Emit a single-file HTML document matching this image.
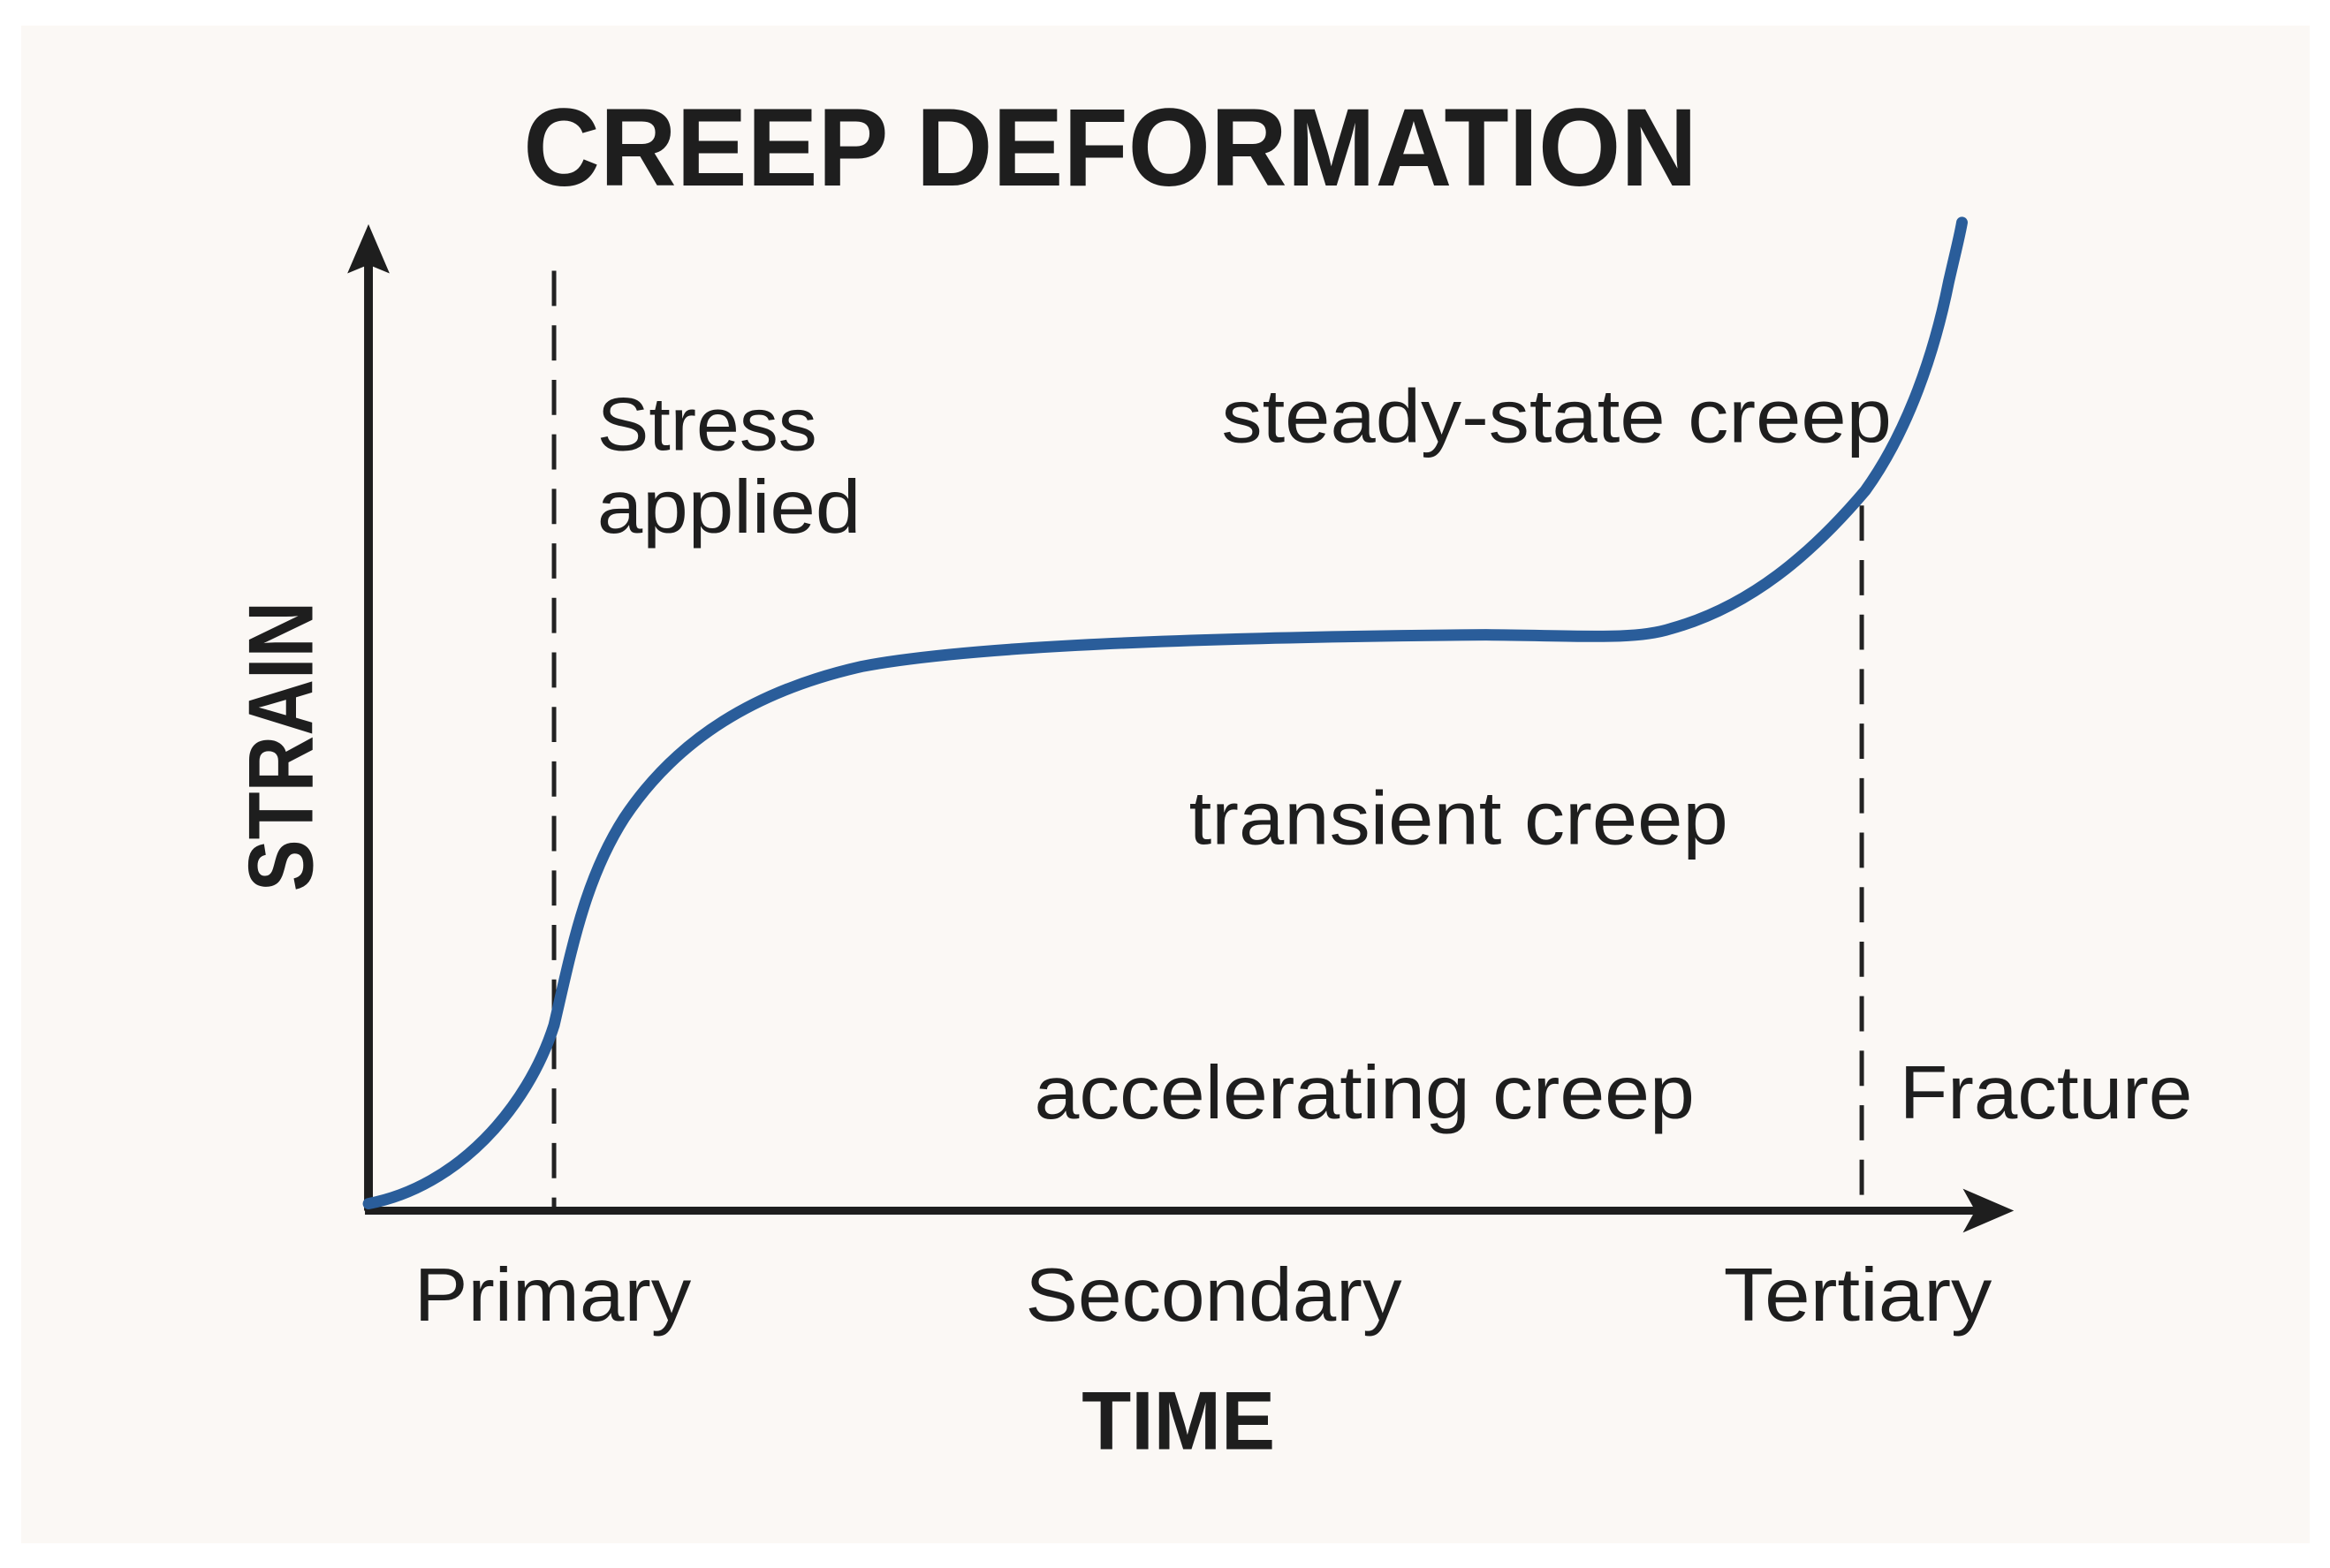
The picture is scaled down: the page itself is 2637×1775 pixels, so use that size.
<!DOCTYPE html>
<html><head><meta charset="utf-8"><style>
html,body{margin:0;padding:0;background:#fff}
svg{display:block}
text{font-family:"Liberation Sans","DejaVu Sans",sans-serif;fill:#1e1e1e}
</style></head><body>
<svg width="2637" height="1775" viewBox="0 0 2637 1775" xmlns="http://www.w3.org/2000/svg">
<rect x="0" y="0" width="2637" height="1775" fill="#ffffff"/>
<rect x="24" y="29" width="2590" height="1718" fill="#fbf8f5"/>
<g transform="scale(0.9953)">
<text x="595" y="211" font-size="126" font-weight="bold" textLength="1335" lengthAdjust="spacingAndGlyphs">CREEP DEFORMATION</text>
<line x1="630" y1="308" x2="630" y2="1377" stroke="#222" stroke-width="5" stroke-dasharray="40 22"/>
<line x1="2117" y1="575" x2="2117" y2="1377" stroke="#222" stroke-width="5" stroke-dasharray="40 22"/>
<line x1="419" y1="1377" x2="419" y2="290" stroke="#1e1e1e" stroke-width="10"/>
<polygon points="419,255 395,311 419,301 443,311" fill="#1e1e1e"/>
<line x1="415" y1="1377" x2="2250" y2="1377" stroke="#1e1e1e" stroke-width="9"/>
<polygon points="2290,1377 2232,1352 2246,1377 2232,1402" fill="#1e1e1e"/>
<path d="M419,1369 C520,1350 600,1260 630,1166 C650,1080 665,1000 710,930 C770,840 860,785 980,758 C1100,735 1350,725 1690,722 C1800,723 1860,728 1900,715 C1990,690 2060,630 2121,558 C2170,490 2200,400 2216,320 C2224,285 2228,270 2231,253" fill="none" stroke="#2a5d9a" stroke-width="13" stroke-linecap="round"/>
<text x="679" y="512" font-size="86" textLength="250" lengthAdjust="spacingAndGlyphs">Stress</text>
<text x="679" y="606" font-size="86" textLength="300" lengthAdjust="spacingAndGlyphs">applied</text>
<text x="1389" y="503" font-size="86" textLength="762" lengthAdjust="spacingAndGlyphs">steady-state creep</text>
<text x="1352" y="960" font-size="86" textLength="613" lengthAdjust="spacingAndGlyphs">transient creep</text>
<text x="1176" y="1272" font-size="86" textLength="751" lengthAdjust="spacingAndGlyphs">accelerating creep</text>
<text x="2160" y="1272" font-size="86" textLength="333" lengthAdjust="spacingAndGlyphs">Fracture</text>
<text x="471" y="1502" font-size="86" textLength="315" lengthAdjust="spacingAndGlyphs">Primary</text>
<text x="1166" y="1502" font-size="86" textLength="428" lengthAdjust="spacingAndGlyphs">Secondary</text>
<text x="1960" y="1502" font-size="86" textLength="305" lengthAdjust="spacingAndGlyphs">Tertiary</text>
<text x="1230" y="1648" font-size="94" font-weight="bold" textLength="220" lengthAdjust="spacingAndGlyphs">TIME</text>
<text transform="translate(355,1014) rotate(-90)" x="0" y="0" font-size="104" font-weight="bold" textLength="330" lengthAdjust="spacingAndGlyphs">STRAIN</text>
</g>
</svg>
</body></html>
